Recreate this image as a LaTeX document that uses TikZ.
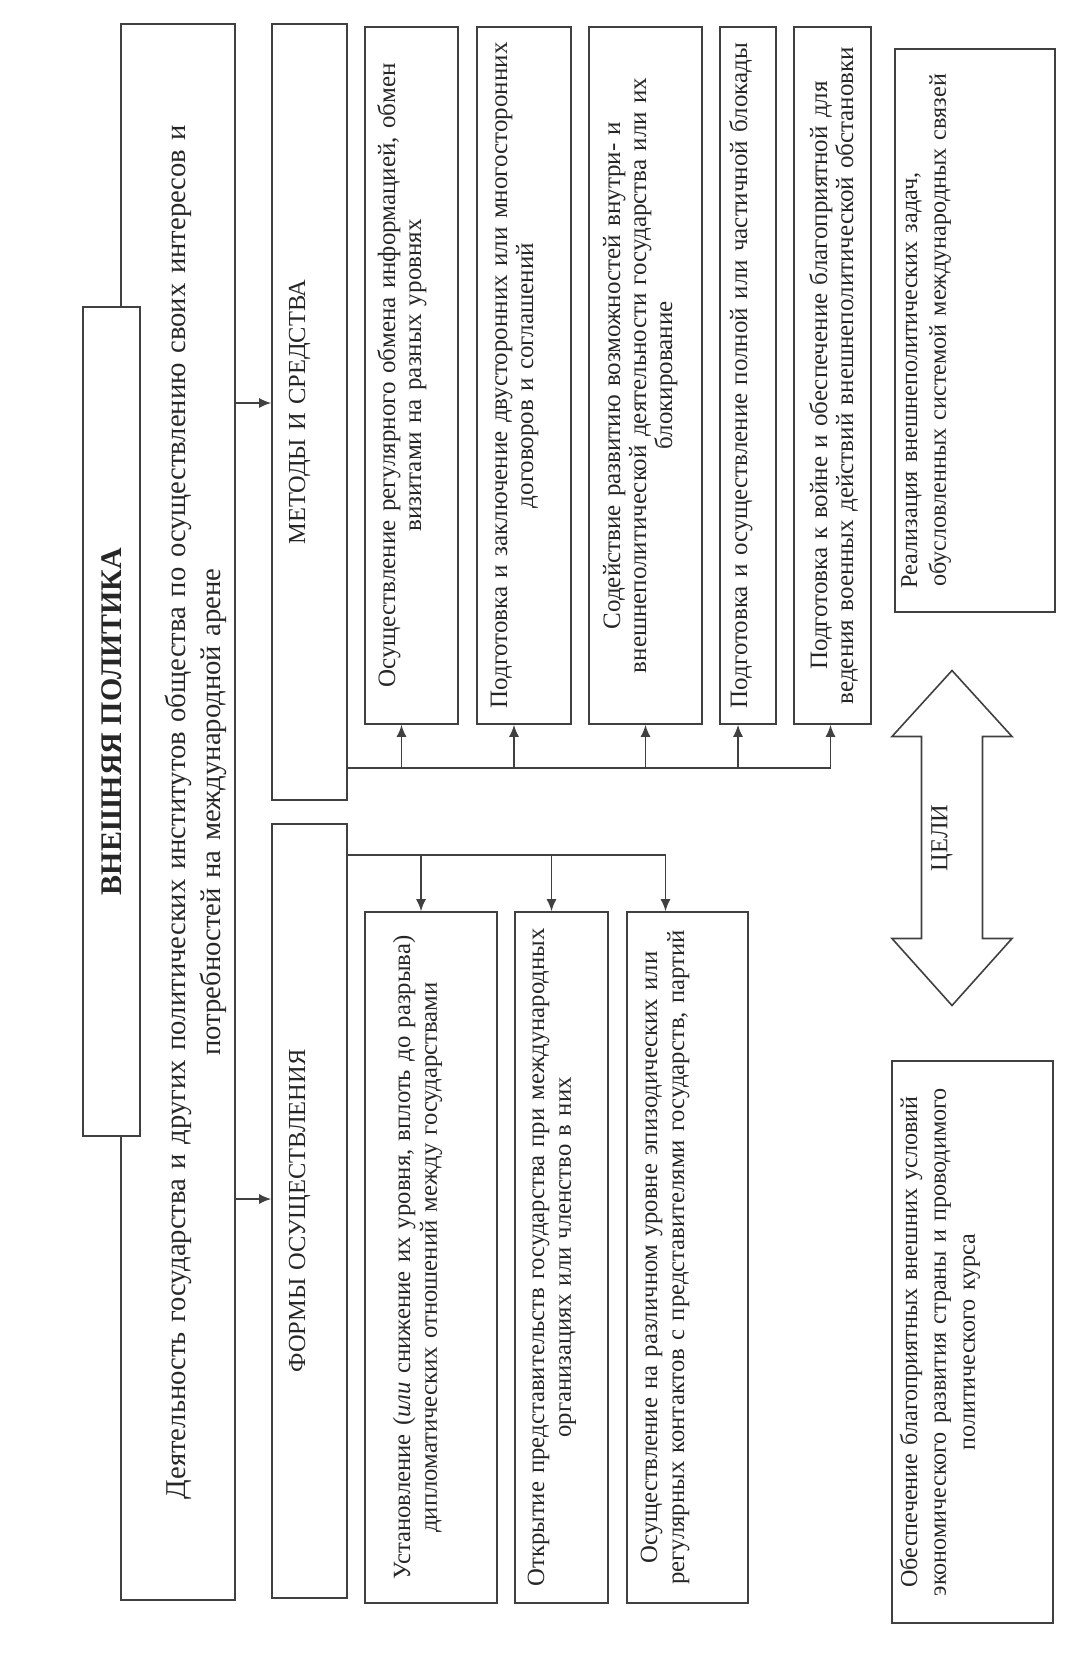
\documentclass[tikz,border=0pt]{standalone}
\usepackage{fontspec}
\setmainfont{Liberation Serif}
\usepackage{tikz}
\usetikzlibrary{arrows.meta}

\newlength{\pix}
\setlength{\pix}{0.25mm}

\begin{document}
\begin{tikzpicture}[x=\pix,y=-\pix,
    line/.style={draw=black!75,line width=0.4mm},
    arr/.style={-{Latex[length=3mm,width=2.5mm]}},
    cell/.style n args={3}{line,rotate=90,align=center,inner sep=0pt,text=black!85,
        text width=#1\pix,text height=#2\pix,text depth=#3\pix,
        font=\fontsize{17.8}{18.5}\selectfont},
    form/.style={font=\fontsize{17.6}{19.2}\selectfont},
    goal/.style={font=\fontsize{17.2}{20.6}\selectfont},
    caption/.style={font=\fontsize{17.4}{20}\selectfont}]
    \useasboundingbox (0,0) rectangle (1088,1656);

    % definition and title
    \node[cell={1576}{64}{50},font=\fontsize{20.4}{24.9}\selectfont] (def) at (178,812)
        {Деятельность государства и других политических институтов общества по осуществлению своих интересов и\\потребностей на международной арене};
    \node[line,fill=white,rotate=90,minimum width=829\pix,minimum height=57\pix,inner sep=0pt,
        text=black!85,font=\bfseries\fontsize{21.3}{24}\selectfont] (title) at (111.5,721.5) {ВНЕШНЯЯ ПОЛИТИКА};

    % two branches
    \node[cell={776}{33}{42},caption] (meth) at (309.5,412) {МЕТОДЫ И СРЕДСТВА};
    \node[cell={774}{33}{42},caption] (forms) at (309.5,1211) {ФОРМЫ ОСУЩЕСТВЛЕНИЯ};
    \draw[line,arr] ([yshift=9\pix]def.south |- meth.north) -- ([yshift=9\pix]meth.north);
    \draw[line,arr] ([yshift=12\pix]def.south |- forms.north) -- ([yshift=12\pix]forms.north);

    % methods
    \node[cell={697}{30}{63}] (M1) at (411.5,375.5)
        {Осуществление регулярного обмена информацией, обмен\\визитами на разных уровнях};
    \node[cell={697}{30}{64}] (M2) at (524,375.5)
        {Подготовка и заключение двусторонних или многосторонних\\договоров и соглашений};
    \node[cell={697}{31}{82}] (M3) at (645.5,375.5)
        {Содействие развитию возможностей внутри- и\\внешнеполитической деятельности государства или их\\блокирование};
    \node[cell={697}{27}{29}] (M4) at (748,375.5)
        {Подготовка и осуществление полной или частичной блокады};
    \node[cell={697}{33}{44}] (M5) at (832.5,375.5)
        {Подготовка к войне и обеспечение благоприятной для\\ведения военных действий внешнеполитической обстановки};

    \coordinate (mbus) at (0,768);
    \draw[line] (meth.south |- mbus) -- ([xshift=-2\pix]M5.west |- mbus);
    \foreach \b/\s in {M1/-10,M2/-10,M3/0,M4/-10,M5/-2}
        \draw[line,arr] ([xshift=\s\pix]\b.west |- mbus) -- ([xshift=\s\pix]\b.west);

    % forms
    \node[cell={691}{45}{87},form] (F1) at (431,1257.5)
        {Установление (\textit{или} снижение их уровня, вплоть до разрыва)\\дипломатических отношений между государствами};
    \node[cell={691}{29}{64},form] (F2) at (561.5,1257.5)
        {Открытие представительств государства при международных\\организациях или членство в них};
    \node[cell={691}{30}{91},form] (F3) at (687.5,1257.5)
        {Осуществление на различном уровне эпизодических или\\регулярных контактов с представителями государств, партий};

    \coordinate (fbus) at (0,855);
    \draw[line] (forms.south |- fbus) -- ([xshift=-22\pix]F3.east |- fbus);
    \foreach \b/\s in {F1/-10,F2/-10,F3/-22}
        \draw[line,arr] ([xshift=\s\pix]\b.east |- fbus) -- ([xshift=\s\pix]\b.east);

    % goals
    \node[cell={563}{22}{138},goal] (G1) at (975,330.5)
        {Реализация внешнеполитических задач,\hspace{100\pix}\null\\обусловленных системой международных связей};
    \node[cell={562}{25}{136},goal] (G2) at (972.5,1342)
        {Обеспечение благоприятных внешних условий\\экономического развития страны и проводимого\\политического курса};

    \node[caption,rotate=90,text=black!85] (aims) at (942,838) {ЦЕЛИ};
    \draw[line] (aims.center -| 952,0) ++(0,-167.5) -- ++(60,66) -- ++(-29.5,0) -- ++(0,202)
        -- ++(29.5,0) -- ++(-60,67) -- ++(-60,-67) -- ++(29.5,0) -- ++(0,-202) -- ++(-29.5,0) -- cycle;
\end{tikzpicture}
\end{document}
